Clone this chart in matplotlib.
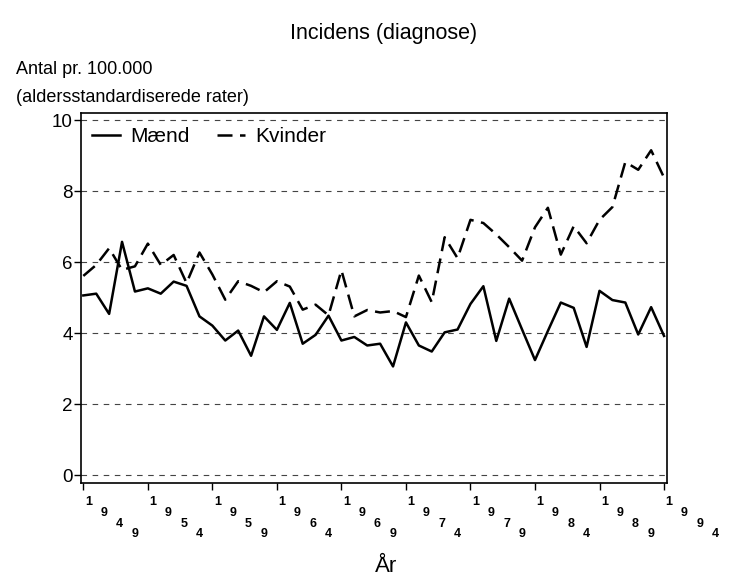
import matplotlib
matplotlib.use("Agg")
import matplotlib.pyplot as plt
import matplotlib.transforms as mtransforms
import numpy as np

years = list(range(1949, 1995))
maend = [5.06, 5.11, 4.54, 6.57, 5.17, 5.26, 5.11, 5.45, 5.33, 4.47,
         4.21, 3.79, 4.07, 3.36, 4.47, 4.09, 4.85, 3.70, 3.95, 4.49,
         3.79, 3.89, 3.65, 3.70, 3.06, 4.30, 3.65, 3.48, 4.02, 4.10,
         4.82, 5.32, 3.78, 4.97, 4.10, 3.24, 4.06, 4.86, 4.71, 3.61,
         5.19, 4.93, 4.86, 3.96, 4.73, 3.92]
kvinder = [5.61, 5.92, 6.39, 5.78, 5.88, 6.52, 5.92, 6.20, 5.41, 6.27,
           5.65, 4.94, 5.46, 5.33, 5.15, 5.46, 5.31, 4.66, 4.80, 4.50,
           5.77, 4.47, 4.65, 4.58, 4.62, 4.45, 5.62, 4.87, 6.70, 6.11,
           7.19, 7.10, 6.78, 6.42, 6.04, 6.98, 7.53, 6.21, 7.01, 6.53,
           7.19, 7.55, 8.82, 8.60, 9.15, 8.38]
series_names = ["Mænd", "Kvinder"]
xtick_years = ["1949", "1954", "1959", "1964", "1969", "1974", "1979", "1984", "1989", "1994"]
ytick_vals = [0, 2, 4, 6, 8, 10]

title = "Incidens (diagnose)"
ylab1 = "Antal pr. 100.000"
ylab2 = "(aldersstandardiserede rater)"
xlab = "År"

plt.rcParams["font.family"] = ["Liberation Sans", "DejaVu Sans"]

W, H = 730, 577
fig = plt.figure(figsize=(W / 100, H / 100), dpi=100)
ax_l, ax_r, ax_t, ax_b = 81, 667, 113, 482.5
ax = fig.add_axes([ax_l / W, 1 - ax_b / H, (ax_r - ax_l) / W, (ax_b - ax_t) / H])

ax.plot(years, maend, color="black", lw=1.8, ls="-", label=series_names[0])
ax.plot(years, kvinder, color="black", lw=1.8, ls=(0, (6, 3)), label=series_names[1])

for v in ytick_vals:
    ax.axhline(v, color="#444444", lw=0.8, ls=(0, (5, 5)), zorder=0)

ax.set_xlim(1948.82, 1994.23)
ax.set_ylim(-0.21, 10.2)
ax.set_yticks(ytick_vals)
ax.set_yticklabels([str(v) for v in ytick_vals], fontsize=13.5)
ax.set_xticks([int(y) for y in xtick_years])
ax.set_xticklabels([""] * len(xtick_years))
ax.tick_params(axis="both", direction="out", length=5, width=1, color="black")
ax.tick_params(axis="y", pad=0.8)
for s in ax.spines.values():
    s.set_linewidth(1.2)

# staggered diagonal tick labels
for lab in xtick_years:
    x = int(lab)
    for i, ch in enumerate(lab):
        dx = (5 + 15.5 * i) / 100
        dy = -(19.5 + 10.8 * i) / 100
        tr = mtransforms.blended_transform_factory(ax.transData, ax.transAxes) + \
            mtransforms.ScaledTranslation(dx, dy, fig.dpi_scale_trans)
        ax.text(x, 0, ch, transform=tr, ha="center", va="center",
                fontsize=9, fontweight="bold", clip_on=False)

leg = ax.legend(loc="upper left", ncol=2, frameon=False,
                handlelength=1.35, handletextpad=0.5, columnspacing=1.3,
                bbox_to_anchor=(-0.0137, 1.012), prop={"size": 15})

fig.text(384 / W, 1 - 33 / H, title, ha="center", va="center", fontsize=15.5)
fig.text(16 / W, 1 - 70 / H, ylab1, ha="left", va="center", fontsize=13)
fig.text(16 / W, 1 - 97 / H, ylab2, ha="left", va="center", fontsize=13)
fig.text(386 / W, 1 - 566 / H, xlab, ha="center", va="center", fontsize=16)

fig.savefig("out.png", dpi=100)
